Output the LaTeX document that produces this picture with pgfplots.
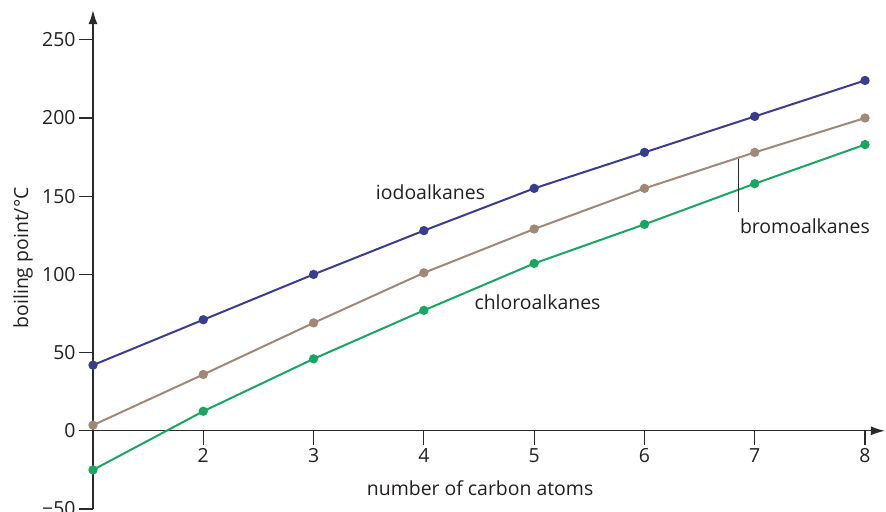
\documentclass[border=0pt]{standalone}
\usepackage{pgfplots}
\pgfplotsset{compat=1.18}
\usepackage{fontspec}
\setmainfont{Open Sans}
\usetikzlibrary{arrows.meta}
\definecolor{iodo}{HTML}{3A3D8C}
\definecolor{bromo}{HTML}{A08878}
\definecolor{chloro}{HTML}{1CA562}
\definecolor{axisgray}{HTML}{2A2A2A}
\definecolor{txt}{HTML}{231F20}
\begin{document}
\begin{tikzpicture}
\begin{axis}[
  x=110.29bp, y=1.564bp,
  xmin=1, xmax=8.18, ymin=-50, ymax=269,
  axis x line=middle, axis y line=left,
  axis line style={axisgray, line width=1.3bp, -{Latex[length=14bp,width=9bp]}},
  xtick={2,...,8}, ytick={-50,0,...,250},
  yticklabels={−50,0,50,100,150,200,250},
  hide obscured x ticks=false, hide obscured y ticks=false,
  tick align=outside, major tick length=14bp,
  tick style={axisgray, line width=1.1bp},
  ticklabel style={font=\fontsize{19.5}{22}\selectfont, text=txt},
  /pgf/number format/assume math mode=true,
  clip=false,
  every axis plot/.append style={line width=2bp, mark=*, mark size=3.6bp},
]
\addplot[iodo, mark options={fill=iodo}] coordinates {
  (1,42) (2,71) (3,100) (4,128) (5,155) (6,178) (7,201) (8,224)};
\addplot[bromo, mark options={fill=bromo}] coordinates {
  (1,3.6) (2,36) (3,69) (4,101) (5,129) (6,155) (7,178) (8,200)};
\addplot[chloro, mark options={fill=chloro}] coordinates {
  (1,-25) (2,12.5) (3,46) (4,77) (5,107) (6,132) (7,158) (8,183)};
\draw[axisgray, line width=1.1bp] (axis cs:6.85,174) -- (axis cs:6.85,140);
\node[font=\fontsize{19.5}{22}\selectfont, text=txt] at (axis cs:4.06,152.8) {iodoalkanes};
\node[font=\fontsize{19.5}{22}\selectfont, text=txt] at (axis cs:5.03,82.5) {chloroalkanes};
\node[font=\fontsize{19.5}{22}\selectfont, text=txt] at (axis cs:7.455,131) {bromoalkanes};
\node[font=\fontsize{19.5}{22}\selectfont, text=txt] at (axis cs:4.51,-36.4) {number of carbon atoms};
\node[font=\fontsize{19.5}{22}\selectfont, text=txt, rotate=90] at ([xshift=-70bp]axis cs:1,110.6) {boiling point/°C};
\coordinate (bl) at (axis cs:1,-50);
\end{axis}
\pgfresetboundingbox
\path[use as bounding box] ([shift={(-93bp,-3bp)}]bl) rectangle ([shift={(793bp,509bp)}]bl);
\end{tikzpicture}
\end{document}
